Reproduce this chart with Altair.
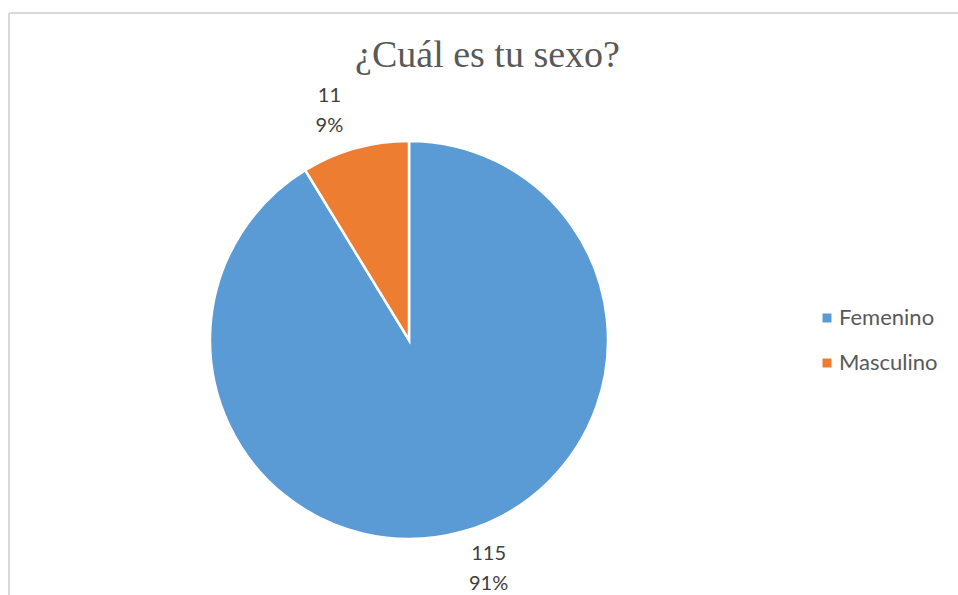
import altair as alt
import pandas as pd

categories = ["Femenino", "Masculino"]
counts = [115, 11]
percents = ["91%", "9%"]
colors = ["#5B9BD5", "#ED7D31"]

df = pd.DataFrame({
    "sexo": categories,
    "n": counts,
    "label": [f"{c}\n{p}" for c, p in zip(counts, percents)],
    "orden": list(range(len(categories))),
})

CX, CY = 400, 327
base = alt.Chart(df).encode(
    theta=alt.Theta("n:Q", stack=True),
    order=alt.Order("orden:Q"),
)

pie = base.mark_arc(stroke="white", strokeWidth=2.5).encode(
    x=alt.value(CX), y=alt.value(CY), radius=alt.value(199),
    color=alt.Color(
        "sexo:N",
        scale=alt.Scale(domain=categories, range=colors),
        legend=alt.Legend(
            title=None, orient="none", legendX=807, legendY=294,
            symbolType="square", symbolSize=81, symbolStrokeWidth=0,
            labelFontSize=22, labelFont="Lato", labelColor="#595959",
            rowPadding=23, labelOffset=1, padding=0,
        ),
    ),
)

labels = base.mark_text(
    lineBreak="\n", fontSize=20, font="Lato", color="#404040",
    lineHeight=30, baseline="middle", thetaOffset=-0.061, dy=-15,
).encode(
    x=alt.value(CX), y=alt.value(CY), radius=alt.value(242),
    text="label:N",
)

frame_df = pd.DataFrame({"k": [0]})
top_line = alt.Chart(frame_df).mark_rule(color="#D9D9D9", strokeWidth=2).encode(
    x=alt.value(0), x2=alt.value(960), y=alt.value(0)
)
left_line = alt.Chart(frame_df).mark_rule(color="#D9D9D9", strokeWidth=2).encode(
    x=alt.value(0), y=alt.value(0), y2=alt.value(600)
)

chart = alt.layer(top_line, left_line, pie, labels).properties(
    width=949, height=582,
    padding={"left": 9, "top": 13, "right": 0, "bottom": 0},
    autosize=alt.AutoSizeParams(type="none"),
    title=alt.TitleParams(
        "¿Cuál es tu sexo?", font="Liberation Serif", fontSize=38,
        fontWeight="normal", color="#595959", anchor="middle",
        baseline="alphabetic", offset=-93, dx=4,
    ),
).configure_view(stroke=None)

chart.save("out.html", embed_options={"renderer": "svg", "actions": False})
